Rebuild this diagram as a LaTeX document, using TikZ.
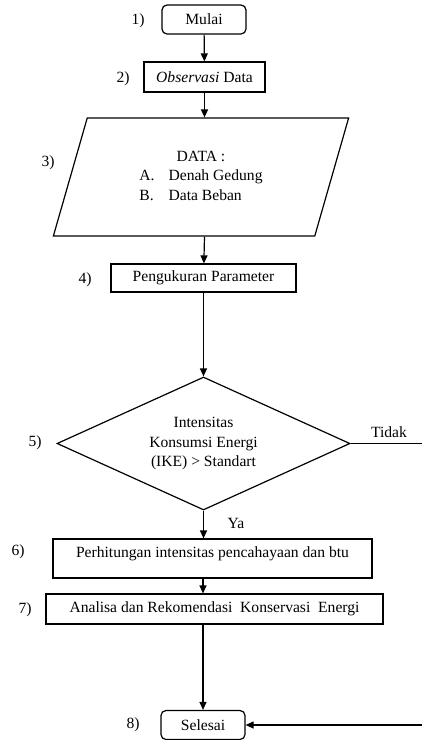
\documentclass[tikz,border=0pt]{standalone}
\usepackage{fontspec}
\setmainfont{Liberation Serif}
\usetikzlibrary{positioning,arrows.meta,shapes.geometric}

\begin{document}
\begin{tikzpicture}[
  x=1pt, y=-1pt,
  font=\fontsize{15.6}{19.5}\selectfont,
  proses/.style={draw,very thick,rectangle,inner sep=0pt},
  terminal/.style={proses,rounded corners=5pt,minimum width=84pt,minimum height=29pt},
  masukan/.style={draw,very thick,trapezium,trapezium left angle=72.6,
    trapezium right angle=107.4,trapezium stretches=true,
    minimum width=296pt,minimum height=118pt,inner sep=0pt},
  keputusan/.style={draw,very thick,diamond,aspect=2.2,minimum width=293pt,
    minimum height=133pt,inner sep=0pt,align=center},
  panah/.style={-{Triangle[length=8pt,width=7pt]},very thick},
  nomor/.style={inner sep=0pt},
  ]
  \useasboundingbox (0,0) rectangle (422,740);

  \node[terminal] (mulai) at (204,19.5) {Mulai};
  \node[proses,minimum width=121pt,minimum height=30pt] (observasi) at (204.5,77)
    {\textit{Observasi} Data};
  \node[masukan] (data) at (201,177) {\begin{tabular}{@{}l@{\hspace{14pt}}l@{}}
      \multicolumn{2}{c}{DATA :}\\
      A. & Denah Gedung\\
      B. & Data Beban
    \end{tabular}};
  \node[proses,minimum width=185pt,minimum height=28pt] (ukur) at (203.5,278)
    {Pengukuran Parameter};
  \node[keputusan] (ike) at (203.5,443.5)
    {Intensitas\\Konsumsi Energi\\(IKE) > Standart};
  \node[proses,minimum width=319pt,minimum height=39pt,text height=11pt,
    text depth=14pt] (hitung) at (212.5,558.5)
    {Perhitungan intensitas pencahayaan dan btu};
  \node[proses,minimum width=337pt,minimum height=30pt] (analisa) at (214.5,609)
    {Analisa dan Rekomendasi~ Konservasi~ Energi};
  \node[terminal] (selesai) at (203,725) {Selesai};

  \node[nomor] (no1) at (138,21) {1)};
  \node[nomor] (no2) at (123,79) {2)};
  \node[nomor] (no3) at (48,163) {3)};
  \node[nomor] (no4) at (85,280) {4)};
  \node[nomor] (no5) at (35,443) {5)};
  \node[nomor] (no6) at (18,552) {6)};
  \node[nomor] (no7) at (25,610) {7)};
  \node[nomor] (no8) at (133,725) {8)};

  \node[nomor] (tidak) at (389,432) {Tidak};
  \node[nomor] (ya) at (236,523) {Ya};
  \coordinate (kanan) at (425,443.5);

  \draw[panah] (mulai) -- (observasi);
  \draw[panah] (observasi) -- (data.north -| observasi);
  \draw[panah] (data.south -| observasi) -- (ukur);
  \draw[panah] (ukur) -- (ike);
  \draw[panah] (ike) -- (ike.south |- hitung.north);
  \draw[panah] (hitung.south -| selesai) -- (analisa.north -| selesai);
  \draw[panah] (analisa.south -| selesai) -- (selesai);
  \draw[panah] (ike.east) -- (kanan) |- (selesai.east);

\end{tikzpicture}
\end{document}
